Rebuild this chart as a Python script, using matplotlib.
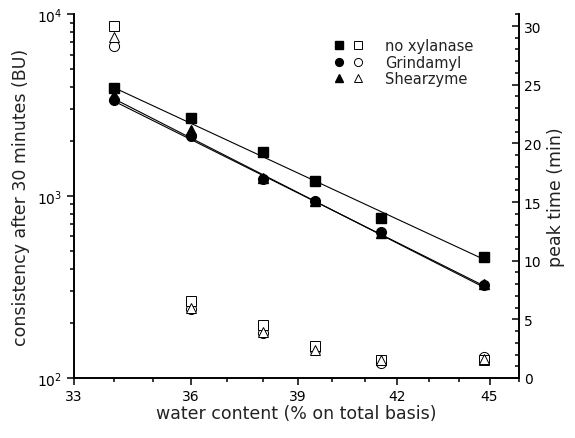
import numpy as np
import matplotlib
matplotlib.use("Agg")
import matplotlib.pyplot as plt
from matplotlib.legend_handler import HandlerTuple
from matplotlib.ticker import FixedLocator, NullFormatter, FixedFormatter

water = [34, 36, 38, 39.5, 41.5, 44.8]

# consistency after 30 min (BU), filled symbols, left axis
cons_none = [3950, 2700, 1750, 1210, 757, 464]
cons_grind = [3380, 2150, 1240, 940, 632, 324]
cons_shear = [3600, 2300, 1252, 945, 625, 327]

# regression line ends (x = 34 and 44.8)
fit_x = [34, 44.8]
fit_none = [3950, 450]
fit_grind = [3330, 322]
fit_shear = [3430, 316]

# peak time (min), open symbols, right axis
peak_none = [30.0, 6.6, 4.5, 2.75, 1.55, 1.55]
peak_grind = [28.3, 5.9, 3.85, 2.35, 1.3, 1.75]
peak_shear = [29.1, 5.95, 3.9, 2.4, 1.5, 1.6]

labels = ["no xylanase", "Grindamyl", "Shearzyme"]

plt.rcParams['font.family'] = ['DejaVu Sans']
fig = plt.figure(figsize=(5.75, 4.39), dpi=100)
ax = fig.add_axes([74/575, 1-379/439, (519-74)/575, (379-15.3)/439])
ax2 = ax.twinx()

ms = 6.5
lw = 0.8
for fy in [fit_none, fit_grind, fit_shear]:
    ax.plot(fit_x, fy, color='black', lw=lw, zorder=2)
f1, = ax.plot(water, cons_none, 's', color='black', ms=ms, ls='none', zorder=3)
f2, = ax.plot(water, cons_grind, 'o', color='black', ms=ms+0.5, ls='none', zorder=3)
f3, = ax.plot(water, cons_shear, '^', color='black', ms=ms+0.5, ls='none', zorder=3)

o1, = ax2.plot(water, peak_none, 's', mfc='white', mec='black', mew=0.7, ms=ms+0.3, ls='none')
o3, = ax2.plot(water, peak_shear, '^', mfc='white', mec='black', mew=0.7, ms=ms+0.8, ls='none')
o2, = ax2.plot(water, peak_grind, 'o', mfc='white', mec='black', mew=0.7, ms=ms+0.8, ls='none')
o2.set_zorder(1)

ax.set_xscale('log')
ax.set_yscale('log')
ax.set_xlim(33, 46)
ax.set_ylim(100, 10000)
ax2.set_ylim(0, 31)

ax.xaxis.set_major_locator(FixedLocator([33, 36, 39, 42, 45]))
ax.xaxis.set_major_formatter(FixedFormatter(['33', '36', '39', '42', '45']))
ax.xaxis.set_minor_locator(FixedLocator([34, 35, 37, 38, 40, 41, 43, 44, 46]))
ax.xaxis.set_minor_formatter(NullFormatter())

ax.yaxis.set_major_locator(FixedLocator([100, 1000, 10000]))
ax.yaxis.set_major_formatter(FixedFormatter([r'$10^2$', r'$10^3$', r'$10^4$']))
ax.yaxis.set_minor_locator(FixedLocator([m * d for d in [100, 1000] for m in range(2, 10)]))
ax.yaxis.set_minor_formatter(NullFormatter())

ax2.yaxis.set_major_locator(FixedLocator([0, 5, 10, 15, 20, 25, 30]))
ax2.yaxis.set_minor_locator(FixedLocator([v for v in range(0, 32) if v % 5 != 0]))

for a in [ax, ax2]:
    a.spines['top'].set_visible(False)
    for s in a.spines.values():
        s.set_linewidth(1.2)
ax.tick_params(which='major', direction='out', length=5, width=1.1, labelsize=10, colors='black')
ax.tick_params(which='minor', direction='out', length=3, width=1.1)
ax2.tick_params(which='major', direction='in', length=5, width=1.1, labelsize=10)
ax2.tick_params(which='minor', direction='in', length=3, width=1.1)
ax.tick_params(axis='x', pad=3)

txt = '#222222'
ax.set_xlabel('water content (% on total basis)', fontsize=12.5, labelpad=1, color=txt)
ax.set_ylabel('consistency after 30 minutes (BU)', fontsize=12.5, labelpad=5, color=txt)
ax2.set_ylabel('peak time (min)', fontsize=12.5, labelpad=4, color=txt)

leg = ax2.legend([(f1, o1), (f2, o2), (f3, o3)], labels,
                 handler_map={tuple: HandlerTuple(ndivide=None, pad=0.6)},
                 loc='upper left', bbox_to_anchor=(0.584, 0.935), frameon=False,
                 borderpad=0, borderaxespad=0,
                 fontsize=10.5, handlelength=2.0, handletextpad=1.5, labelspacing=0.12,
                 markerscale=0.8)
for t in leg.get_texts():
    t.set_color(txt)

fig.savefig('out.png', dpi=100)
